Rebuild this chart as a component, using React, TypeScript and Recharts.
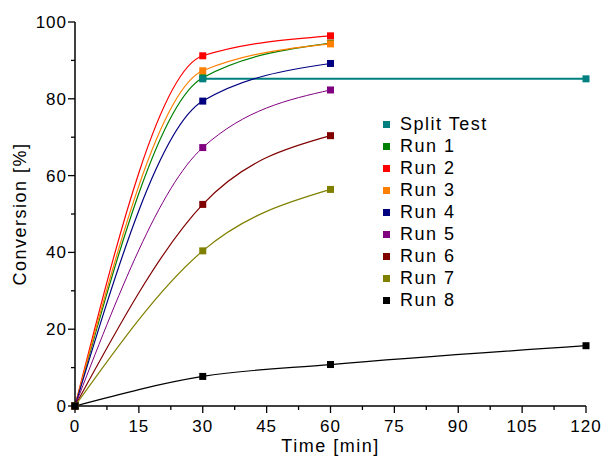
import { LineChart, Line, XAxis, YAxis, Label } from "recharts";

const TIMES = [0, 30, 60];
const RUN1 = [0, 85.5, 94.5];
const RUN2 = [0, 91.2, 96.4];
const RUN3 = [0, 87.3, 94.3];
const RUN4 = [0, 79.4, 89.2];
const RUN5 = [0, 67.3, 82.3];
const RUN6 = [0, 52.5, 70.4];
const RUN7 = [0, 40.4, 56.4];
const RUN8_TIMES = [0, 30, 60, 120];
const RUN8 = [0, 7.7, 10.8, 15.7];
const SPLIT_TIMES = [30, 120];
const SPLIT = [85.2, 85.2];

const X_TICKS = [0, 7.5, 15, 22.5, 30, 37.5, 45, 52.5, 60, 67.5, 75, 82.5, 90, 97.5, 105, 112.5, 120];
const Y_TICKS = [0, 10, 20, 30, 40, 50, 60, 70, 80, 90, 100];

const FONT = "'Liberation Sans', Arial, sans-serif";

const toPoints = (times: number[], values: number[]) =>
  times.map((t, i) => ({ t, v: values[i] }));

interface Series {
  name: string;
  color: string;
  data: { t: number; v: number }[];
  curved: boolean;
  width: number;
}

const RUNS: Series[] = [
  { name: "Run 1", color: "#008000", data: toPoints(TIMES, RUN1), curved: true, width: 1.2 },
  { name: "Split Test", color: "#008080", data: toPoints(SPLIT_TIMES, SPLIT), curved: false, width: 2 },
  { name: "Run 2", color: "#ff0000", data: toPoints(TIMES, RUN2), curved: true, width: 1.2 },
  { name: "Run 3", color: "#ff8000", data: toPoints(TIMES, RUN3), curved: true, width: 1.2 },
  { name: "Run 4", color: "#000080", data: toPoints(TIMES, RUN4), curved: true, width: 1.2 },
  { name: "Run 5", color: "#800080", data: toPoints(TIMES, RUN5), curved: true, width: 1 },
  { name: "Run 6", color: "#800000", data: toPoints(TIMES, RUN6), curved: true, width: 1.2 },
  { name: "Run 7", color: "#808000", data: toPoints(TIMES, RUN7), curved: true, width: 1.2 },
  { name: "Run 8", color: "#000000", data: toPoints(RUN8_TIMES, RUN8), curved: true, width: 1.2 },
];

const LEGEND_ORDER = ["Split Test", "Run 1", "Run 2", "Run 3", "Run 4", "Run 5", "Run 6", "Run 7", "Run 8"];

const squareDot = (color: string) => (props: any) => {
  const { cx, cy, index } = props;
  if (cx == null || cy == null) return <g key={index} />;
  return <rect key={index} x={cx - 3.5} y={cy - 3.5} width={7} height={7} fill={color} />;
};

const XTick = (props: any) => {
  const { x, y, payload } = props;
  const major = payload.value % 15 === 0;
  return (
    <g>
      <line x1={x} x2={x} y1={y} y2={y + (major ? 7 : 4)} stroke="#000" strokeWidth={1.3} />
      {major && (
        <text x={x} y={y + 26} textAnchor="middle" fontSize={17} fontFamily={FONT} letterSpacing={1} fill="#000">
          {payload.value}
        </text>
      )}
    </g>
  );
};

const YTick = (props: any) => {
  const { x, y, payload } = props;
  const major = payload.value % 20 === 0;
  return (
    <g>
      <line x1={x} x2={x - (major ? 7 : 4)} y1={y} y2={y} stroke="#000" strokeWidth={1.3} />
      {major && (
        <text x={x - 8} y={y + 6} textAnchor="end" fontSize={17} fontFamily={FONT} letterSpacing={1} fill="#000">
          {payload.value}
        </text>
      )}
    </g>
  );
};

// legend sits inside the plot, so it is drawn over the chart rather than through <Legend>
const ChartLegend = () => (
  <div
    style={{
      position: "absolute",
      left: 383,
      top: 114,
      fontFamily: FONT,
      fontSize: 18,
      letterSpacing: 1.5,
      color: "#000",
    }}
  >
    {LEGEND_ORDER.map((name) => {
      const s = RUNS.find((r) => r.name === name)!;
      return (
        <div key={name} style={{ display: "flex", alignItems: "center", height: 21.9 }}>
          <span style={{ display: "inline-block", width: 7, height: 7, background: s.color, marginRight: 10 }} />
          <span>{name}</span>
        </div>
      );
    })}
  </div>
);

export default function App() {
  return (
    <div style={{ position: "absolute", left: 0, top: 0, width: 611, height: 465, background: "#fff" }}>
      <LineChart width={611} height={465} margin={{ top: 22, right: 25, bottom: 9, left: 25 }}>
        <XAxis
          type="number"
          dataKey="t"
          domain={[0, 120]}
          ticks={X_TICKS}
          interval={0}
          height={50}
          tickSize={0}
          tickMargin={0}
          tickLine={false}
          tick={<XTick />}
          axisLine={{ stroke: "#000", strokeWidth: 1.5 }}
          allowDuplicatedCategory={false}
        >
          <Label
            value="Time [min]"
            position="insideBottom"
            offset={4}
            style={{ fontFamily: FONT, fontSize: 18, letterSpacing: 1.5, fill: "#000" }}
          />
        </XAxis>
        <YAxis
          type="number"
          dataKey="v"
          domain={[0, 100]}
          ticks={Y_TICKS}
          interval={0}
          width={50}
          tickSize={0}
          tickMargin={0}
          tickLine={false}
          tick={<YTick />}
          axisLine={{ stroke: "#000", strokeWidth: 1.5 }}
        >
          <Label
            value="Conversion [%]"
            angle={-90}
            position="center"
            dx={-30}
            style={{ fontFamily: FONT, fontSize: 18, letterSpacing: 1.5, fill: "#000", textAnchor: "middle" }}
          />
        </YAxis>
        {RUNS.map((s) => (
          <Line
            key={s.name}
            name={s.name}
            data={s.data}
            dataKey="v"
            type={s.curved ? "monotone" : "linear"}
            stroke={s.color}
            strokeWidth={s.width}
            dot={squareDot(s.color)}
            activeDot={false}
            isAnimationActive={false}
          />
        ))}
      </LineChart>
      <ChartLegend />
    </div>
  );
}
